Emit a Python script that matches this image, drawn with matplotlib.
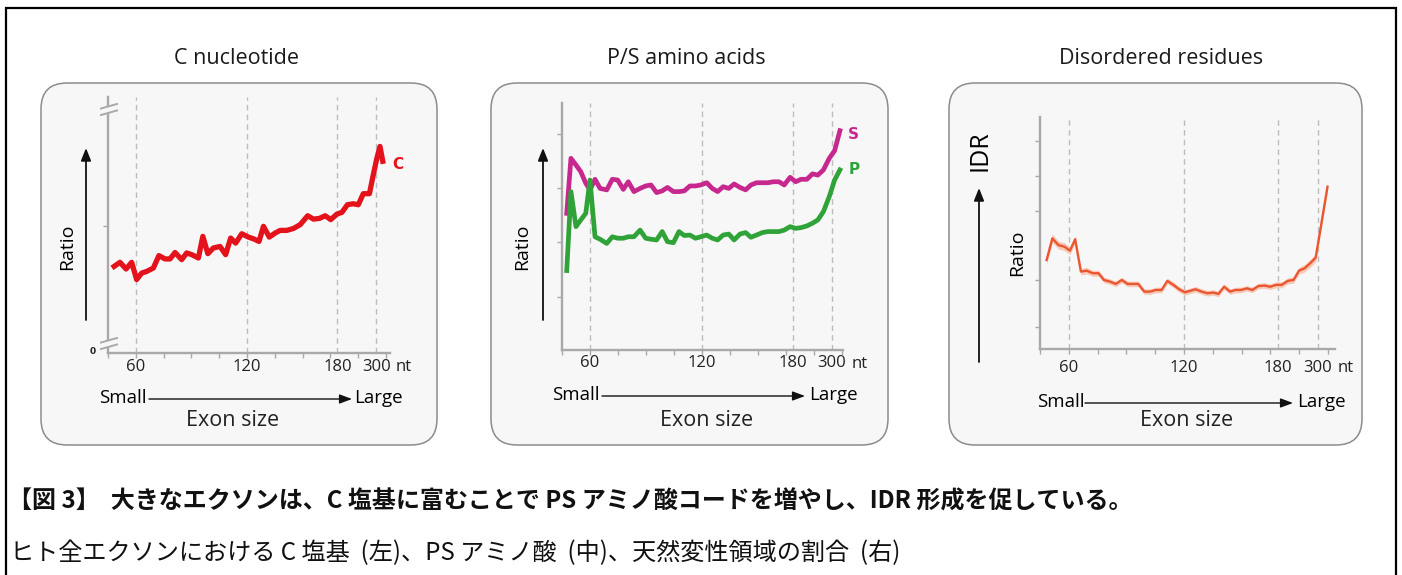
import matplotlib
matplotlib.use("Agg")
import matplotlib.pyplot as plt
from matplotlib.patches import FancyBboxPatch, Polygon

W, H = 1402, 575

# ---------------- data ----------------
titles = ["C nucleotide", "P/S amino acids", "Disordered residues"]
tick_labels = ["60", "120", "180", "300"]
tick_pos = [1.0, 5.0, 8.25, 9.65]
minor_ticks = [0, 1, 2, 3, 4, 5, 6, 7, 8, 9, 10]

c_x = [0.22, 0.43, 0.65, 0.85, 1.03, 1.21, 1.39, 1.63, 1.83, 2.05, 2.23, 2.41, 2.65,
       2.83, 3.01, 3.25, 3.41, 3.59, 3.79, 4.03, 4.23, 4.41, 4.59, 4.81, 5.05, 5.23,
       5.43, 5.59, 5.80, 6.01, 6.19, 6.43, 6.67, 6.91, 7.18, 7.39, 7.60, 7.81, 8.01,
       8.23, 8.41, 8.61, 8.82, 9.00, 9.18, 9.40, 9.54, 9.66, 9.78, 9.88]
c_ratio = [36.1, 37.8, 35.0, 37.8, 30.6, 33.3, 34.0, 35.4, 40.6, 39.2, 39.2, 41.9, 38.9,
           41.7, 41.0, 39.6, 48.6, 41.4, 43.8, 44.4, 41.0, 47.9, 45.8, 49.7, 48.3, 47.6,
           46.5, 52.8, 48.3, 50.0, 51.1, 51.1, 51.9, 53.5, 57.2, 55.8, 56.1, 57.2, 55.6,
           57.9, 58.6, 61.8, 62.2, 61.8, 66.4, 66.4, 74.3, 80.8, 86.1, 79.9]
c_yticks = [52.9]

ps_x = [0.18, 0.33, 0.51, 0.68, 0.86, 1.01, 1.19, 1.37, 1.61, 1.81, 2.00, 2.20, 2.38,
        2.58, 2.80, 3.00, 3.19, 3.39, 3.59, 3.78, 3.99, 4.19, 4.38, 4.58, 4.78, 4.97,
        5.18, 5.38, 5.57, 5.77, 5.97, 6.16, 6.37, 6.57, 6.76, 6.96, 7.17, 7.36, 7.56,
        7.76, 7.95, 8.16, 8.36, 8.55, 8.76, 8.96, 9.15, 9.35, 9.56, 9.75, 9.94]
s_ratio = [55.4, 77.7, 75.0, 72.3, 67.6, 64.9, 69.2, 65.5, 64.9, 69.2, 68.9, 65.1, 68.2,
           64.2, 65.5, 66.5, 66.9, 63.8, 64.5, 65.9, 64.2, 64.2, 64.5, 66.5, 66.5, 66.9,
           67.8, 65.5, 64.2, 66.2, 65.5, 67.3, 65.9, 64.9, 66.9, 67.8, 67.8, 67.8, 68.2,
           68.2, 66.9, 70.0, 68.2, 69.2, 69.2, 71.4, 70.9, 73.0, 77.7, 80.8, 88.9]
p_ratio = [32.2, 64.2, 50.0, 52.7, 55.4, 68.9, 45.9, 44.9, 43.2, 45.9, 45.3, 45.3, 45.9,
           45.9, 48.6, 45.3, 44.9, 44.6, 48.0, 43.9, 43.5, 48.0, 46.4, 46.6, 45.3, 45.9,
           46.6, 45.3, 44.6, 46.6, 47.0, 44.6, 47.0, 47.6, 45.7, 46.6, 47.6, 48.0, 48.0,
           48.0, 48.6, 50.0, 49.3, 49.6, 50.3, 51.4, 52.7, 56.1, 62.2, 68.9, 73.0]
ps_yticks = [87.6, 65.5, 43.6, 21.6]

idr_x = [0.23, 0.43, 0.64, 0.85, 1.04, 1.22, 1.42, 1.62, 1.83, 2.03, 2.22, 2.43, 2.63,
         2.84, 3.04, 3.24, 3.41, 3.62, 3.82, 4.02, 4.22, 4.42, 4.63, 4.83, 5.03, 5.23,
         5.40, 5.61, 5.81, 6.02, 6.19, 6.39, 6.60, 6.79, 6.98, 7.18, 7.37, 7.58, 7.79,
         7.99, 8.19, 8.39, 8.60, 8.80, 8.99, 9.18, 9.38, 9.57, 9.98]
idr_ratio = [38.4, 47.7, 44.8, 44.1, 42.4, 47.3, 33.4, 33.8, 32.7, 32.7, 29.8, 29.1, 28.1,
             29.8, 28.1, 28.1, 28.1, 24.8, 24.8, 25.5, 25.5, 29.4, 27.7, 25.8, 24.5, 25.2,
             25.8, 24.8, 24.1, 24.4, 23.8, 26.9, 24.8, 25.5, 25.5, 26.2, 25.5, 27.2, 27.4,
             26.9, 27.7, 27.7, 29.4, 29.8, 33.8, 34.8, 37.0, 39.4, 69.9]
idr_ci = [1.8, 1.8, 1.7, 1.7, 1.6, 1.6, 1.4, 1.4, 1.3, 1.3, 1.2, 1.2, 1.2,
          1.2, 1.2, 1.2, 1.2, 1.2, 1.2, 1.2, 1.2, 1.2, 1.2, 1.2, 1.2, 1.2,
          1.2, 1.2, 1.2, 1.2, 1.2, 1.2, 1.2, 1.2, 1.2, 1.2, 1.2, 1.2, 1.2,
          1.2, 1.3, 1.3, 1.3, 1.4, 1.5, 1.6, 1.7, 1.8, 2.0]
idr_yticks = [89.5, 74.5, 59.5, 29.7, 9.7]

caption1 = "【図 3】  大きなエクソンは、C 塩基に富むことで PS アミノ酸コードを増やし、IDR 形成を促している。"
caption2 = "ヒト全エクソンにおける C 塩基  (左)、PS アミノ酸  (中)、天然変性領域の割合  (右)"

# ---------------- figure ----------------
LAT = "Open Sans"
CJK = ["Noto Sans CJK JP", "DejaVu Sans"]
GRAY = "#a9a9a9"

fig = plt.figure(figsize=(W / 100, H / 100), dpi=100)


def pix_axes(z):
    a = fig.add_axes([0, 0, 1, 1], zorder=z)
    a.set_xlim(0, W)
    a.set_ylim(H, 0)
    a.axis("off")
    a.patch.set_visible(False)
    return a


bg = pix_axes(0)
ov = pix_axes(5)

# outer border
bg.plot([6, 6, 1396, 1396], [590, 8, 8, 590], color="black", lw=1.6, clip_on=False,
        solid_joinstyle="miter")

# panel boxes
boxes = [(41, 83, 396, 362), (491, 83, 397, 362), (949, 83, 413, 362)]
for (x0, y0, w, h) in boxes:
    bg.add_patch(FancyBboxPatch((x0, y0), w, h, boxstyle="round,pad=0,rounding_size=26",
                                fc="#f7f7f7", ec="#8c8c8c", lw=1.1))

# titles
for t, xc in zip(titles, [237, 686, 1161]):
    ov.text(xc, 58, t, fontsize=15.5, family=LAT, ha="center", va="center", color="#1a1a1a")


def data_axes(x0, ytop, x1, ybot, xmax, ymax, yticks, pad):
    ax = fig.add_axes([x0 / W, 1 - ybot / H, (x1 - x0) / W, (ybot - ytop) / H], zorder=2)
    ax.patch.set_visible(False)
    ax.set_xlim(0, xmax)
    ax.set_ylim(0, ymax)
    for s in ["top", "right"]:
        ax.spines[s].set_visible(False)
    for s in ["left", "bottom"]:
        ax.spines[s].set_color(GRAY)
        ax.spines[s].set_linewidth(1.7)
    ax.xaxis.remove_overlapping_locs = False
    ax.set_xticks(tick_pos)
    ax.set_xticklabels(tick_labels, fontsize=12, family=LAT, color="#222222")
    ax.set_xticks(minor_ticks, minor=True)
    ax.tick_params(axis="x", which="major", length=0, pad=pad)
    ax.tick_params(axis="x", which="minor", length=3.5, width=1, color=GRAY)
    ax.set_yticks(yticks)
    ax.set_yticklabels([])
    ax.tick_params(axis="y", length=3.5, width=1, color=GRAY)
    for t in tick_pos:
        ax.axvline(t, color="#bdbdbd", lw=1, ls=(0, (4, 3)), zorder=1)
    ax.annotate("nt", xy=(tick_pos[-1], 0), xycoords=("data", "axes fraction"),
                xytext=(20, -pad - 0.5), textcoords="offset points", fontsize=12,
                family=LAT, ha="center", va="top", color="#222222")
    return ax


# ---- left panel: C nucleotide ----
ax1 = data_axes(108, 97, 390, 353, 10.14, 106.7, c_yticks, 4.0)
ax1.plot(c_x, c_ratio, color="#e3121b", lw=3.8, solid_joinstyle="round", zorder=3)
ax1.annotate("C", xy=(c_x[-1], c_ratio[-1]), xytext=(11, -2), textcoords="offset points",
             color="#e3121b", fontsize=11, fontweight="bold", family="DejaVu Sans",
             ha="center", va="center")
ov.text(93, 352, "0", fontsize=6.5, fontweight="bold", ha="center", va="center", color="#222")
# axis breaks
for yb in [106.5, 340.5]:
    ov.add_patch(Polygon([[100, yb + 2], [118, yb - 3], [118, yb + 3.5], [100, yb + 8.5]],
                         closed=True, fc="#f7f7f7", ec="none", zorder=6))
    for dy in [0, 6.5]:
        ov.plot([101, 117], [yb + 2 + dy, yb - 2.5 + dy], color=GRAY, lw=1.4, zorder=7)

# ---- middle panel: P/S ----
ax2 = data_axes(561.7, 103.3, 843, 350, 10.05, 100, ps_yticks, 3.5)
ax2.plot(ps_x, s_ratio, color="#c7288e", lw=3.4, solid_joinstyle="round", zorder=3)
ax2.plot(ps_x, p_ratio, color="#2fa338", lw=3.4, solid_joinstyle="round", zorder=3)
ax2.annotate("S", xy=(ps_x[-1], s_ratio[-1]), xytext=(10, -3), textcoords="offset points",
             color="#c7288e", fontsize=11, fontweight="bold", family="DejaVu Sans",
             ha="center", va="center")
ax2.annotate("P", xy=(ps_x[-1], p_ratio[-1]), xytext=(10, 0), textcoords="offset points",
             color="#2fa338", fontsize=11, fontweight="bold", family="DejaVu Sans",
             ha="center", va="center")

# ---- right panel: IDR ----
ax3 = data_axes(1040, 116.7, 1335, 349.3, 10.24, 100, idr_yticks, 7.5)
lo = [v - e for v, e in zip(idr_ratio, idr_ci)]
hi = [v + e for v, e in zip(idr_ratio, idr_ci)]
ax3.fill_between(idr_x, lo, hi, color="#f7c9b8", lw=0, zorder=2)
ax3.plot(idr_x, idr_ratio, color="#ea5630", lw=1.7, zorder=3)

# ---- axis annotations (arrows, labels) ----
def varrow(x, y0, y1):
    ov.annotate("", xy=(x, y1), xytext=(x, y0),
                arrowprops=dict(arrowstyle="-|>,head_length=0.75,head_width=0.3",
                                color="#111111", lw=1.3, shrinkA=0, shrinkB=0))


def harrow(x0, x1, y):
    ov.annotate("", xy=(x1, y), xytext=(x0, y),
                arrowprops=dict(arrowstyle="-|>,head_length=0.75,head_width=0.28",
                                color="#111111", lw=1.0, shrinkA=0, shrinkB=0))


varrow(86, 320, 148)
varrow(543, 320, 148)
varrow(979, 362, 188)
ov.text(67, 247, "Ratio", rotation=90, fontsize=14, family=LAT, ha="center", va="center")
ov.text(522, 247, "Ratio", rotation=90, fontsize=14, family=LAT, ha="center", va="center")
ov.text(1017, 253, "Ratio", rotation=90, fontsize=14, family=LAT, ha="center", va="center")
ov.text(980, 151, "IDR", rotation=90, fontsize=18, family=LAT, ha="center", va="center")

for (xs, xa0, xa1, xl, ys, xe) in [(123, 149, 352, 378, 398, 233),
                                   (576, 602, 805, 833, 395, 707),
                                   (1061, 1085, 1293, 1321, 402, 1187)]:
    ov.text(xs, ys, "Small", fontsize=13.5, family=LAT, ha="center", va="center")
    harrow(xa0, xa1, ys + 1)
    ov.text(xl, ys, "Large", fontsize=13.5, family=LAT, ha="center", va="center")
    ov.text(xe, 420, "Exon size", fontsize=15.5, family=LAT, ha="center", va="center",
            color="#222222")

# ---- caption ----
ov.text(8, 502, caption1, fontsize=17.3, fontweight="bold", family=CJK, ha="left",
        va="center", color="#111111")
ov.text(10, 553, caption2, fontsize=17.4, family=CJK, ha="left", va="center",
        color="#111111")

fig.savefig("out.png", dpi=100)
